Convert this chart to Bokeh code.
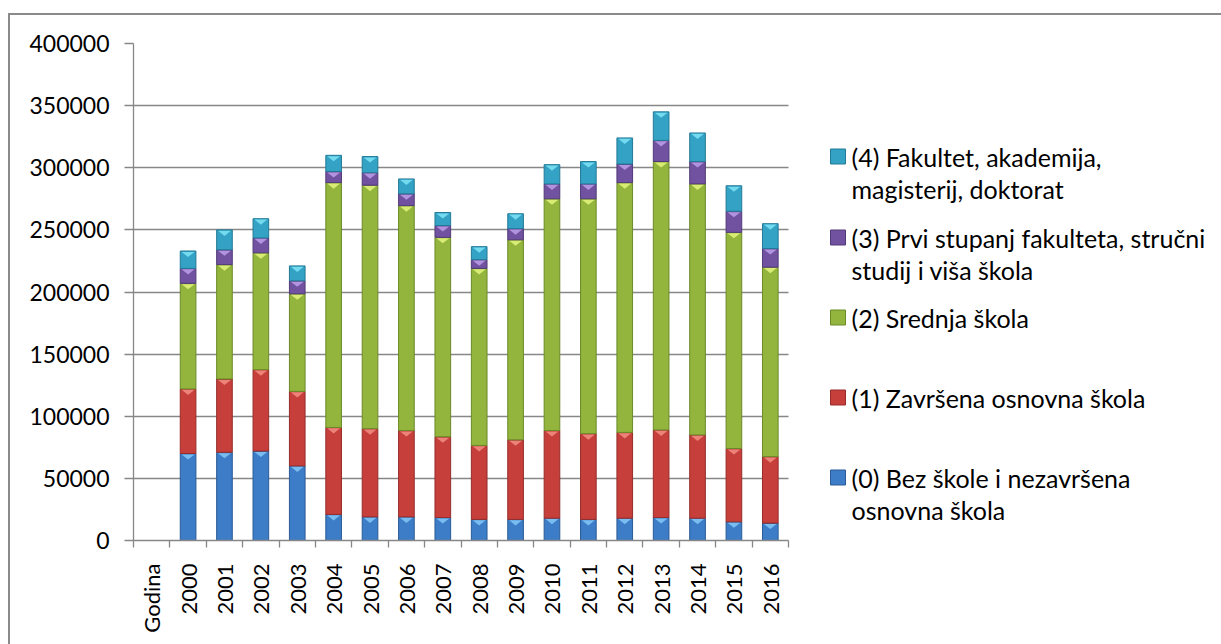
from bokeh.plotting import figure
from bokeh.models import (ColumnDataSource, FixedTicker, Range1d, NumeralTickFormatter,
                          InlineStyleSheet)
from bokeh.core.properties import value
from bokeh.embed import file_html
from bokeh.resources import INLINE

categories = ["Godina", "2000", "2001", "2002", "2003", "2004", "2005", "2006", "2007",
              "2008", "2009", "2010", "2011", "2012", "2013", "2014", "2015", "2016"]
years = categories[1:]

s0_bez_skole = [70000, 71000, 72000, 60000, 21000, 19000, 19000, 18500, 17000, 17000,
                18000, 17000, 18000, 18500, 18000, 15000, 14000]
s1_osnovna = [52000, 59000, 65500, 60000, 70000, 71000, 69500, 65000, 59500, 64000,
              70500, 69000, 69000, 70500, 67000, 59000, 53500]
s2_srednja = [85000, 92000, 94000, 78500, 197000, 196000, 181000, 160500, 142500, 161000,
              186500, 189000, 201000, 216000, 202000, 174000, 152500]
s3_prvi_stupanj = [12000, 12000, 12000, 10500, 9000, 10000, 9500, 9500, 7000, 9000,
                   12000, 12000, 15000, 17000, 18000, 17000, 15000]
s4_fakultet = [14000, 16000, 15500, 12000, 13000, 13000, 12000, 10500, 10500, 12000,
               15500, 18000, 21000, 23000, 23000, 20500, 20000]

legend_lines = [["(0) Bez škole i nezavršena", "osnovna škola"],
                ["(1) Završena osnovna škola"],
                ["(2) Srednja škola"],
                ["(3) Prvi stupanj fakulteta, stručni", "studij i viša škola"],
                ["(4) Fakultet, akademija,", "magisterij, doktorat"]]
y_ticks = [0, 50000, 100000, 150000, 200000, 250000, 300000, 350000, 400000]

fill_colors = ["#3d7cc6", "#c63f3b", "#93b53d", "#7052a0", "#33a2c4"]
line_colors = ["#2a5b96", "#962d2a", "#6b8a28", "#523a78", "#237a96"]
bevel_colors = ["#7fc4f4", "#f08a80", "#e0f27a", "#b99ae6", "#7ae0f4"]

W, H = 1221, 644
FL, FT, FB = 133, 43, 540          # frame edges in canvas px
AXIS_PX = 655                      # pixel length of the category axis
n_cat = len(categories)
x_end = n_cat * (W - FL) / AXIS_PX
Y_MAX = 400000
BAR_W = 0.43

x_pos = [categories.index(y) + 0.5 for y in years]
keys = ["s0", "s1", "s2", "s3", "s4"]
series = [s0_bez_skole, s1_osnovna, s2_srednja, s3_prvi_stupanj, s4_fakultet]
source = ColumnDataSource(dict(x=x_pos, s0=s0_bez_skole, s1=s1_osnovna, s2=s2_srednja,
                               s3=s3_prvi_stupanj, s4=s4_fakultet))

GRID = "#878787"
BORDER = "#8a8a8a"
p = figure(width=W, height=H, output_backend="svg", toolbar_location=None,
           x_range=Range1d(0, x_end), y_range=Range1d(0, Y_MAX),
           min_border_left=FL, min_border_right=0, min_border_top=FT,
           min_border_bottom=H - FB)
p.outline_line_color = None
p.background_fill_color = "white"
p.border_fill_color = "white"
# chart-area border (left and top edges, as in the original picture)
p.stylesheets = [InlineStyleSheet(css=(
    ":host { position: relative; }\n"
    ":host::after { content: ''; position: absolute; left: 8px; top: 13px; "
    "right: 0px; bottom: 0px; border-left: 2px solid " + BORDER + "; "
    "border-top: 2px solid " + BORDER + "; pointer-events: none; z-index: 50; }"
))]

p.vbar_stack(keys, x="x", width=BAR_W, source=source,
             fill_color=fill_colors, line_color=line_colors, line_width=1)

# small light bevel triangles at the top of each segment (Excel style)
tri_h = 6 * Y_MAX / (FB - FT)
tri_xs, tri_ys, tri_c = [], [], []
for idx, xi in enumerate(x_pos):
    top = 0
    for k, s in enumerate(series):
        top += s[idx]
        hw = BAR_W / 2 * 0.82
        tri_xs.append([xi - hw, xi + hw, xi])
        tri_ys.append([top - tri_h * 0.15, top - tri_h * 0.15, top - tri_h])
        tri_c.append(bevel_colors[k])
p.patches(xs=tri_xs, ys=tri_ys, fill_color=tri_c, line_color=None, fill_alpha=0.9)

FONT = "Lato"
p.xgrid.grid_line_color = None
p.ygrid.grid_line_color = GRID
p.ygrid.grid_line_width = 1.3
p.ygrid.cross_bounds = (0, n_cat)
p.ygrid.ticker = FixedTicker(ticks=y_ticks)
p.yaxis.ticker = FixedTicker(ticks=y_ticks)
p.yaxis.formatter = NumeralTickFormatter(format="0")
p.yaxis.axis_line_color = GRID
p.yaxis.axis_line_width = 1.3
p.yaxis.major_tick_line_color = GRID
p.yaxis.major_tick_line_width = 1.3
p.yaxis.major_tick_in = 0
p.yaxis.major_tick_out = 9
p.yaxis.minor_tick_line_color = None
p.yaxis.major_label_text_font = FONT
p.yaxis.major_label_text_font_size = "23px"
p.yaxis.major_label_text_color = "#000000"
p.yaxis.major_label_standoff = 15

centers = [i + 0.5 for i in range(n_cat)]
bounds = [float(i) for i in range(n_cat + 1)]
p.xaxis.bounds = (0, n_cat)
p.xaxis.ticker = FixedTicker(ticks=centers, minor_ticks=bounds)
p.xaxis.major_label_overrides = {c: lab for c, lab in zip(centers, categories)}
p.xaxis.major_label_orientation = 3.14159265 / 2
p.xaxis.major_tick_line_color = None
p.xaxis.minor_tick_line_color = GRID
p.xaxis.minor_tick_line_width = 1.3
p.xaxis.minor_tick_in = 0
p.xaxis.minor_tick_out = 7
p.xaxis.axis_line_color = GRID
p.xaxis.axis_line_width = 1.3
p.xaxis.major_label_text_font = FONT
p.xaxis.major_label_text_font_size = "22px"
p.xaxis.major_label_text_color = "#000000"
p.xaxis.major_label_standoff = 16


def dx(px):
    return (px - FL) * n_cat / AXIS_PX


def dy(py):
    return (FB - py) * Y_MAX / (FB - FT)


# legend drawn in the (wide) frame, top-aligned slots like the original
sq_center_x, sq_size, text_x = 837.5, 15, 851
first_line_y = [477, 397, 317, 237, 156]
line_gap = 32
sq_x, sq_y, tx, ty, tt = [], [], [], [], []
for i, lines in enumerate(legend_lines):
    sq_x.append(dx(sq_center_x))
    sq_y.append(dy(first_line_y[i]))
    for j, txt in enumerate(lines):
        tx.append(dx(text_x))
        ty.append(dy(first_line_y[i] + j * line_gap))
        tt.append(txt)
p.rect(x=sq_x, y=sq_y, width=sq_size, height=sq_size, width_units="screen",
       height_units="screen", fill_color=fill_colors, line_color=line_colors, line_width=1)
p.text(x=tx, y=ty, text=tt, text_font=value(FONT), text_font_size="25px",
       text_color="#000000", text_baseline="middle", text_align="left")

open("out.html", "w").write(file_html(p, INLINE))
